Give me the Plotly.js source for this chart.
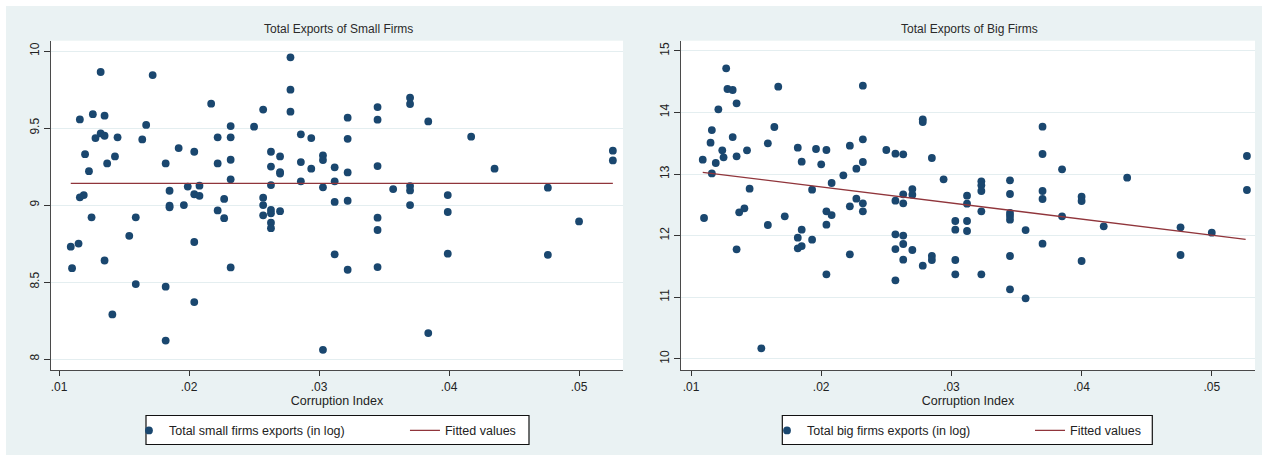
<!DOCTYPE html>
<html>
<head>
<meta charset="utf-8">
<script src="https://cdn.plot.ly/plotly-3.0.1.min.js"></script>
<style>
html,body{margin:0;padding:0;background:#ffffff;}
#chart{position:absolute;left:6px;top:6px;width:1256px;height:449px;}
</style>
</head>
<body>
<div id="chart"></div>
<script>
// ---- Data ----
var titleSmall = "Total Exports of Small Firms";
var titleBig = "Total Exports of Big Firms";
var xTitle = "Corruption Index";
var nameSmall = "Total small firms exports (in log)";
var nameBig = "Total big firms exports (in log)";
var nameFit = "Fitted values";

var xTickVals = [0.01, 0.02, 0.03, 0.04, 0.05];
var xTickText = [".01", ".02", ".03", ".04", ".05"];
var ySmallTickVals = [8, 8.5, 9, 9.5, 10];
var ySmallTickText = ["8", "8.5", "9", "9.5", "10"];
var yBigTickVals = [10, 11, 12, 13, 14, 15];
var yBigTickText = ["10", "11", "12", "13", "14", "15"];

var smallX = [
 0.0109,0.0110,0.0115,0.0116,0.0119,0.0116,0.0120,0.0123,0.0125,0.0126,
 0.0128,0.0132,0.0132,0.0135,0.0135,0.0137,0.0135,0.0141,0.0143,0.0145,
 0.0154,0.0159,0.0159,0.0164,0.0167,0.0172,0.0182,0.0182,0.0182,0.0185,
 0.0185,0.0185,0.0192,0.0196,0.0199,0.0204,0.0204,0.0204,0.0204,0.0208,
 0.0208,0.0217,0.0222,0.0222,0.0222,0.0227,0.0227,0.0232,0.0232,0.0232,
 0.0232,0.0232,0.0250,0.0257,0.0257,0.0257,0.0257,0.0263,0.0263,0.0263,
 0.0263,0.0263,0.0263,0.0263,0.0270,0.0270,0.0270,0.0270,0.0278,0.0278,
 0.0278,0.0286,0.0286,0.0286,0.0294,0.0294,0.0303,0.0303,0.0303,0.0303,
 0.0312,0.0312,0.0312,0.0312,0.0322,0.0322,0.0322,0.0322,0.0322,0.0345,
 0.0345,0.0345,0.0345,0.0345,0.0345,0.0357,0.0370,0.0370,0.0370,0.0370,
 0.0370,0.0384,0.0384,0.0399,0.0399,0.0399,0.0417,0.0435,0.0476,0.0476,
 0.0500,0.0526,0.0526
];
var smallY = [
 8.73,8.59,8.75,9.05,9.065,9.556,9.33,9.22,8.92,9.59,
 9.435,9.864,9.465,9.58,9.45,9.27,8.64,8.29,9.316,9.44,
 8.80,8.92,8.487,9.426,9.52,9.844,9.27,8.47,8.12,9.093,
 8.996,8.985,9.37,9.0,9.12,9.346,9.07,8.76,8.37,9.126,
 9.06,9.658,9.44,9.27,8.965,9.04,8.915,9.513,9.44,9.294,
 9.167,8.595,9.509,9.62,9.048,9.0,8.933,9.346,9.25,9.13,
 8.968,8.946,8.885,8.85,9.316,9.214,9.205,8.96,9.959,9.749,
 9.606,9.459,9.279,9.154,9.435,9.236,9.322,9.292,9.115,8.06,
 9.245,9.154,9.02,8.68,9.567,9.43,9.212,9.028,8.58,9.636,
 9.554,9.253,8.918,8.838,8.597,9.104,9.697,9.656,9.123,9.095,
 9.0,9.543,8.169,9.065,8.955,8.684,9.444,9.236,9.113,8.677,
 8.894,9.353,9.29
];
var fitSmallX = [0.0109, 0.0526];
var fitSmallY = [9.141, 9.141];

var bigX = [
 0.0109,0.0110,0.0115,0.0116,0.0116,0.0119,0.0121,0.0124,0.0125,0.0127,
 0.0128,0.0132,0.0132,0.0135,0.0135,0.0135,0.0137,0.0141,0.0143,0.0145,
 0.0154,0.0159,0.0159,0.0164,0.0167,0.0172,0.0182,0.0182,0.0182,0.0185,
 0.0185,0.0185,0.0193,0.0193,0.0196,0.0200,0.0204,0.0204,0.0204,0.0204,
 0.0208,0.0208,0.0217,0.0222,0.0222,0.0222,0.0227,0.0227,0.0232,0.0232,
 0.0232,0.0232,0.0232,0.0250,0.0257,0.0257,0.0257,0.0257,0.0257,0.0263,
 0.0263,0.0263,0.0263,0.0263,0.0263,0.0270,0.0270,0.0270,0.0278,0.0278,
 0.0278,0.0285,0.0285,0.0285,0.0294,0.0303,0.0303,0.0303,0.0303,0.0312,
 0.0312,0.0312,0.0312,0.0323,0.0323,0.0323,0.0323,0.0323,0.0345,0.0345,
 0.0345,0.0345,0.0345,0.0345,0.0345,0.0357,0.0357,0.0370,0.0370,0.0370,
 0.0370,0.0370,0.0385,0.0385,0.0400,0.0400,0.0400,0.0417,0.0435,0.0476,
 0.0476,0.0500,0.0527,0.0527
];
var bigY = [
 13.233,12.286,13.509,13.714,13.01,13.179,14.05,13.384,13.27,14.715,
 14.38,14.364,13.60,14.147,13.287,11.777,12.378,12.443,13.384,12.762,
 10.17,13.498,12.172,13.763,14.418,12.313,13.427,11.966,11.793,13.2,
 12.096,11.83,12.746,11.934,13.406,13.157,13.39,12.394,12.178,11.371,
 12.854,12.334,12.978,13.46,12.475,11.696,13.087,12.6,14.434,13.563,
 13.195,12.524,12.394,13.39,13.33,12.567,12.02,11.782,11.274,13.32,
 12.67,12.524,12.0,11.864,11.609,12.756,12.665,11.766,13.887,13.844,
 11.512,13.26,11.669,11.604,12.913,12.237,12.096,11.604,11.371,12.648,
 12.518,12.237,12.075,12.881,12.816,12.724,12.394,11.371,12.897,12.675,
 12.367,12.318,12.259,11.669,11.128,12.09,10.982,13.768,13.325,12.724,
 12.594,11.869,13.076,12.313,12.632,12.562,11.588,12.15,12.94,12.134,
 11.685,12.048,13.292,12.74
];
var fitBigX = [0.0109, 0.0526];
var fitBigY = [13.027, 11.94];

// ---- Styling ----
var navy = "#1a476f";
var maroon = "#90353b";
var bg = "#eaf2f3";
var txt = "#222222";
var FONT = "Liberation Sans, Arial, sans-serif";

var mk = {color: navy, size: 7.8, symbol: "circle"};
var ln = {color: maroon, width: 1.3};

var traces = [
  {type: "scatter", mode: "markers", x: smallX, y: smallY, name: nameSmall,
   marker: mk, xaxis: "x", yaxis: "y", legend: "legend", hoverinfo: "x+y"},
  {type: "scatter", mode: "lines", x: fitSmallX, y: fitSmallY, name: nameFit,
   line: ln, xaxis: "x", yaxis: "y", legend: "legend"},
  {type: "scatter", mode: "markers", x: bigX, y: bigY, name: nameBig,
   marker: mk, xaxis: "x2", yaxis: "y2", legend: "legend2", hoverinfo: "x+y"},
  {type: "scatter", mode: "lines", x: fitBigX, y: fitBigY, name: nameFit,
   line: ln, xaxis: "x2", yaxis: "y2", legend: "legend2"}
];

function xAx(domain, range, anchor) {
  return {
    domain: domain, range: range, anchor: anchor,
    tickmode: "array", tickvals: xTickVals, ticktext: xTickText,
    ticks: "outside", ticklen: 5, tickwidth: 1.2, tickcolor: "#333333",
    showline: true, linecolor: "#4a4a4a", linewidth: 1.3,
    showgrid: false, zeroline: false,
    tickfont: {family: FONT, size: 12, color: txt},
    title: {text: xTitle, font: {family: FONT, size: 12.5, color: txt}, standoff: 0}
  };
}
function yAx(domain, range, anchor, vals, text) {
  return {
    domain: domain, range: range, anchor: anchor,
    tickmode: "array", tickvals: vals, ticktext: text, tickangle: -90,
    ticks: "outside", ticklen: 6, tickwidth: 1.2, tickcolor: "#333333",
    showline: true, linecolor: "#4a4a4a", linewidth: 1.3,
    showgrid: true, gridcolor: "#e4eef0", gridwidth: 1.3, zeroline: false,
    tickfont: {family: FONT, size: 12, color: txt}
  };
}

var yDom = [0.1893, 0.9227];
var layout = {
  width: 1256, height: 449,
  margin: {l: 0, r: 0, t: 0, b: 0, pad: 0, autoexpand: false},
  paper_bgcolor: bg, plot_bgcolor: "#ffffff",
  font: {family: FONT, size: 12, color: txt},
  showlegend: true,
  hovermode: "closest",
  xaxis: xAx([0.03583, 0.49124], [0.00938, 0.05338], "y"),
  yaxis: yAx(yDom, [7.929, 10.067], "x", ySmallTickVals, ySmallTickText),
  xaxis2: xAx([0.53742, 0.99443], [0.00923, 0.05332], "y2"),
  yaxis2: yAx(yDom, [9.818, 15.164], "x2", yBigTickVals, yBigTickText),
  legend: {
    orientation: "h", x: 0.0979, y: 0.054, xanchor: "left", yanchor: "middle",
    xref: "paper", yref: "paper",
    bgcolor: "rgba(0,0,0,0)", borderwidth: 0,
    entrywidth: 231, entrywidthmode: "pixels",
    font: {family: FONT, size: 12.5, color: txt}
  },
  legend2: {
    orientation: "h", x: 0.6059, y: 0.054, xanchor: "left", yanchor: "middle",
    xref: "paper", yref: "paper",
    bgcolor: "rgba(0,0,0,0)", borderwidth: 0,
    entrywidth: 218, entrywidthmode: "pixels",
    font: {family: FONT, size: 12.5, color: txt}
  },
  shapes: [
    {type: "rect", xref: "paper", yref: "paper", x0: 0.11146, x1: 0.41640, y0: 0.0234, y1: 0.0880,
     line: {color: "#111111", width: 1.2}, fillcolor: "#ffffff", layer: "below"},
    {type: "rect", xref: "paper", yref: "paper", x0: 0.61808, x1: 0.91266, y0: 0.0234, y1: 0.0880,
     line: {color: "#111111", width: 1.2}, fillcolor: "#ffffff", layer: "below"}
  ],
  annotations: [
    {text: titleSmall, xref: "paper", yref: "paper", x: 0.2649, y: 0.948,
     xanchor: "center", yanchor: "middle", showarrow: false,
     font: {family: FONT, size: 12, color: "#2a2a2a"}},
    {text: titleBig, xref: "paper", yref: "paper", x: 0.7675, y: 0.948,
     xanchor: "center", yanchor: "middle", showarrow: false,
     font: {family: FONT, size: 12, color: "#2a2a2a"}}
  ]
};

Plotly.newPlot("chart", traces, layout, {displayModeBar: false, responsive: false});
</script>
</body>
</html>
